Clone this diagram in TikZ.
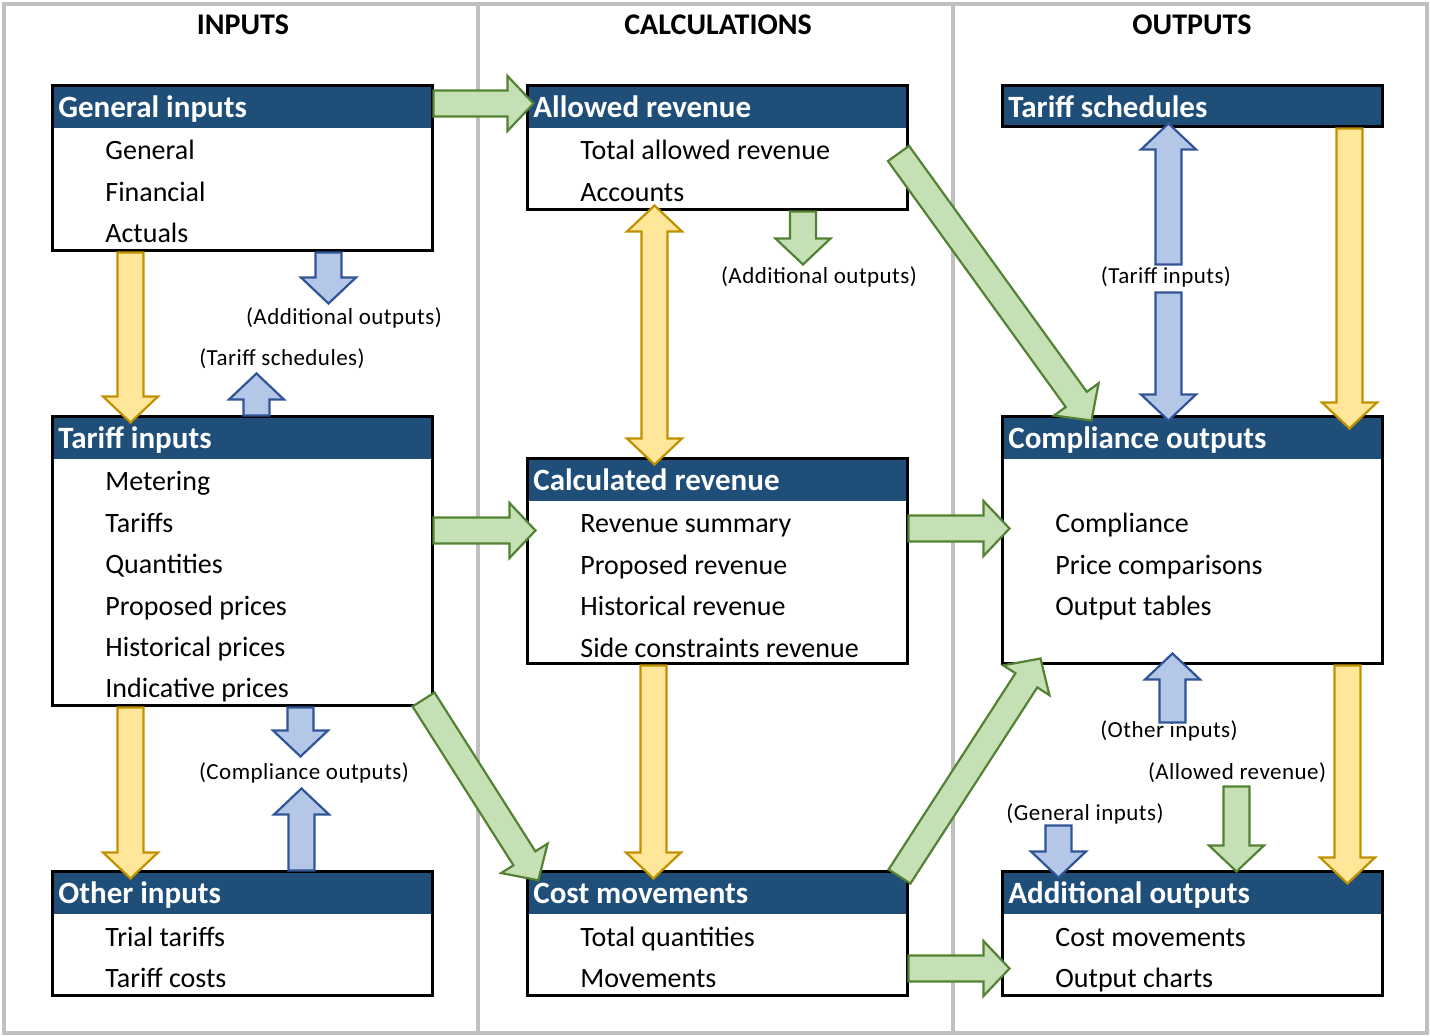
\documentclass[tikz,border=0pt]{standalone}
\usepackage{fontspec}
\setmainfont{Carlito}
\newfontfamily\itemfont{Carlito}
\newfontfamily\lblfont[LetterSpace=2]{Carlito}
\usepackage{tikz}
\usetikzlibrary{calc}
\definecolor{headBlue}{RGB}{31,78,121}
\definecolor{frameGray}{RGB}{191,191,191}
\definecolor{greenFill}{RGB}{197,224,180}
\definecolor{greenLine}{RGB}{84,130,53}
\definecolor{yellowFill}{RGB}{255,230,153}
\definecolor{yellowLine}{RGB}{191,144,0}
\definecolor{blueFill}{RGB}{180,199,231}
\definecolor{blueLine}{RGB}{47,85,151}
\tikzset{
  panel/.style={
    rectangle, draw=black, line width=1.5pt, minimum width=190pt, inner sep=0pt,
    path picture={\fill[headBlue] (path picture bounding box.north west)
      rectangle ([yshift=-21pt]path picture bounding box.north east);}
  },
  greenArrow/.style={fill=greenFill, draw=greenLine, line width=1.1pt},
  yellowArrow/.style={fill=yellowFill, draw=yellowLine, line width=1.1pt},
  blueArrow/.style={fill=blueFill, draw=blueLine, line width=1.1pt}
}
% block arrow: style, from, to
\newcommand{\blkarrow}[3]{%
  \path let \p1=(#2), \p2=(#3) in \pgfextra{%
    \pgfmathsetmacro\arrang{atan2(\y2-\y1,\x2-\x1)}%
    \pgfmathsetmacro\arrlen{veclen(\x2-\x1,\y2-\y1)}%
    \xdef\arrang{\arrang}\xdef\arrlen{\arrlen}\xdef\arrx{\x1}\xdef\arry{\y1}};
  \draw[#1, shift={(\arrx,\arry)}, rotate=\arrang]
    (0pt,-6.5pt) -- (\arrlen pt-13pt,-6.5pt) -- (\arrlen pt-13pt,-13.75pt)
    -- (\arrlen pt,0pt) -- (\arrlen pt-13pt,13.75pt) -- (\arrlen pt-13pt,6.5pt)
    -- (0pt,6.5pt) -- cycle;
}
\newcommand{\blkdarrow}[3]{%
  \path let \p1=(#2), \p2=(#3) in \pgfextra{%
    \pgfmathsetmacro\arrang{atan2(\y2-\y1,\x2-\x1)}%
    \pgfmathsetmacro\arrlen{veclen(\x2-\x1,\y2-\y1)}%
    \xdef\arrang{\arrang}\xdef\arrlen{\arrlen}\xdef\arrx{\x1}\xdef\arry{\y1}};
  \draw[#1, shift={(\arrx,\arry)}, rotate=\arrang]
    (0pt,0pt) -- (13pt,-13.75pt) -- (13pt,-6.5pt) -- (\arrlen pt-13pt,-6.5pt)
    -- (\arrlen pt-13pt,-13.75pt) -- (\arrlen pt,0pt) -- (\arrlen pt-13pt,13.75pt)
    -- (\arrlen pt-13pt,6.5pt) -- (13pt,6.5pt) -- (13pt,13.75pt) -- cycle;
}

\begin{document}
\begin{tikzpicture}[
    x=0.5pt, y=-0.5pt,
    title/.style={anchor=base, font=\fontsize{15}{18}\selectfont\bfseries},
    headtxt/.style={anchor=base west, inner sep=0pt, text=white, font=\fontsize{15.5}{18}\selectfont\bfseries},
    item/.style={anchor=base west, inner sep=0pt, font=\fontsize{14}{16}\selectfont\itemfont},
    lbl/.style={anchor=base, inner sep=0pt, font=\fontsize{11.5}{14}\selectfont\lblfont}
  ]
    \useasboundingbox (0,0) rectangle (1430,1036);
    \draw[frameGray, line width=2pt] (4,4) rectangle (1427,1033);
    \draw[frameGray, line width=2pt] (478,4) -- (478,1033);
    \draw[frameGray, line width=2pt] (953,4) -- (953,1033);

    \node[title] (tin) at (243,35) {INPUTS};
    \node[title] (tcalc) at (718,35) {CALCULATIONS};
    \node[title] (tout) at (1192,35) {OUTPUTS};

    % inputs
    \node[panel, minimum height=82.5pt] (genin) at (242,168.5) {};
    \node[headtxt] at (58,117.5) {General inputs};
    \node[item] (genin1) at (105,160) {General};
    \node[item] (genin2) at (105,201.4) {Financial};
    \node[item] (genin3) at (105,242.8) {Actuals};

    \node[panel, minimum height=144.5pt] (tarin) at (242,561.5) {};
    \node[headtxt] at (58,448.5) {Tariff inputs};
    \node[item] (tarin1) at (105,491) {Metering};
    \node[item] (tarin2) at (105,532.4) {Tariffs};
    \node[item] (tarin3) at (105,573.8) {Quantities};
    \node[item] (tarin4) at (105,615.2) {Proposed prices};
    \node[item] (tarin5) at (105,656.6) {Historical prices};
    \node[item] (tarin6) at (105,698) {Indicative prices};

    \node[panel, minimum height=61.5pt] (othin) at (242,933.5) {};
    \node[headtxt] at (58,903.5) {Other inputs};
    \node[item] (othin1) at (105,946) {Trial tariffs};
    \node[item] (othin2) at (105,987.4) {Tariff costs};

    % calculations
    \node[panel, minimum height=62pt] (allrev) at (717,148) {};
    \node[headtxt] at (533,117.5) {Allowed revenue};
    \node[item] (allrev1) at (580,160) {Total allowed revenue};
    \node[item] (allrev2) at (580,201.4) {Accounts};

    \node[panel, minimum height=102.5pt] (calcrev) at (717,561.5) {};
    \node[headtxt] at (533,490.5) {Calculated revenue};
    \node[item] (calcrev1) at (580,533) {Revenue summary};
    \node[item] (calcrev2) at (580,574.4) {Proposed revenue};
    \node[item] (calcrev3) at (580,615.8) {Historical revenue};
    \node[item] (calcrev4) at (580,657.2) {Side constraints revenue};

    \node[panel, minimum height=61.5pt] (costmov) at (717,933.5) {};
    \node[headtxt] at (533,903.5) {Cost movements};
    \node[item] (costmov1) at (580,946) {Total quantities};
    \node[item] (costmov2) at (580,987.4) {Movements};

    % outputs
    \node[panel, minimum height=20.5pt] (tarsch) at (1192,106.5) {};
    \node[headtxt] at (1008,117.5) {Tariff schedules};

    \node[panel, minimum height=123.5pt] (compout) at (1192,540.5) {};
    \node[headtxt] at (1008,448.5) {Compliance outputs};
    \node[item] (compout1) at (1055,533) {Compliance};
    \node[item] (compout2) at (1055,574.4) {Price comparisons};
    \node[item] (compout3) at (1055,615.8) {Output tables};

    \node[panel, minimum height=61.5pt] (addout) at (1192,933.5) {};
    \node[headtxt] at (1008,903.5) {Additional outputs};
    \node[item] (addout1) at (1055,946) {Cost movements};
    \node[item] (addout2) at (1055,987.4) {Output charts};

    % cross references
    \node[lbl] (lbl1) at (344,325) {(Additional outputs)};
    \node[lbl] (lbl2) at (282,366) {(Tariff schedules)};
    \node[lbl] (lbl3) at (304,780) {(Compliance outputs)};
    \node[lbl] (lbl4) at (819,284) {(Additional outputs)};
    \node[lbl] (lbl5) at (1166,284) {(Tariff inputs)};
    \node[lbl] (lbl6) at (1169,738) {(Other inputs)};
    \node[lbl] (lbl7) at (1237,780) {(Allowed revenue)};
    \node[lbl] (lbl8) at (1085,821) {(General inputs)};

    % green flows
    \blkarrow{greenArrow}{$(genin.north east)+(0,19)$}{$(allrev.north west)+(8,19)$}
    \blkarrow{greenArrow}{$(tarin.north east)+(0,115)$}{$(calcrev.north west)+(10,73)$}
    \blkarrow{greenArrow}{$(calcrev.north east)+(0,71)$}{$(compout.north west)+(9,113)$}
    \blkarrow{greenArrow}{$(costmov.north east)+(0,98)$}{$(addout.north west)+(9,98)$}
    \blkarrow{greenArrow}{$(allrev.north east)+(-10,69)$}{$(compout.north west)+(91,5)$}
    \blkarrow{greenArrow}{$(tarin.south east)+(-10,-8)$}{$(costmov.north west)+(13,10)$}
    \blkarrow{greenArrow}{$(costmov.north east)+(-9,6)$}{$(compout.south west)+(40,-7)$}
    \blkarrow{greenArrow}{$(allrev.south)+(86,0)$}{$(allrev.south)+(86,53)$}
    \blkarrow{greenArrow}{$(addout.north west)+(236,-84)$}{$(addout.north west)+(236,1)$}

    % yellow flows
    \blkarrow{yellowArrow}{$(genin.south west)+(80,0)$}{$(tarin.north west)+(80,7)$}
    \blkarrow{yellowArrow}{$(tarin.south west)+(80,0)$}{$(othin.north west)+(80,8)$}
    \blkdarrow{yellowArrow}{$(allrev.south west)+(129,-6)$}{$(calcrev.north west)+(129,7)$}
    \blkarrow{yellowArrow}{$(calcrev.south west)+(128,0)$}{$(costmov.north west)+(128,8)$}
    \blkarrow{yellowArrow}{$(tarsch.south east)+(-34,0)$}{$(compout.north east)+(-34,13)$}
    \blkarrow{yellowArrow}{$(compout.south east)+(-36,0)$}{$(addout.north east)+(-36,13)$}

    % blue flows
    \blkarrow{blueArrow}{$(genin.south west)+(278,0)$}{$(genin.south west)+(278,51)$}
    \blkarrow{blueArrow}{$(tarin.north west)+(206,0)$}{$(tarin.north west)+(206,-42)$}
    \blkarrow{blueArrow}{$(tarin.south west)+(250,0)$}{$(tarin.south west)+(250,49)$}
    \blkarrow{blueArrow}{$(othin.north west)+(251,0)$}{$(othin.north west)+(251,-82)$}
    \blkarrow{blueArrow}{$(tarsch.south west)+(168,136)$}{$(tarsch.south west)+(168,-5)$}
    \blkarrow{blueArrow}{$(tarsch.south west)+(168,164)$}{$(compout.north west)+(168,5)$}
    \blkarrow{blueArrow}{$(compout.south west)+(172,57)$}{$(compout.south west)+(172,-12)$}
    \blkarrow{blueArrow}{$(addout.north west)+(58,-45)$}{$(addout.north west)+(58,7)$}
  \end{tikzpicture}
\end{document}
